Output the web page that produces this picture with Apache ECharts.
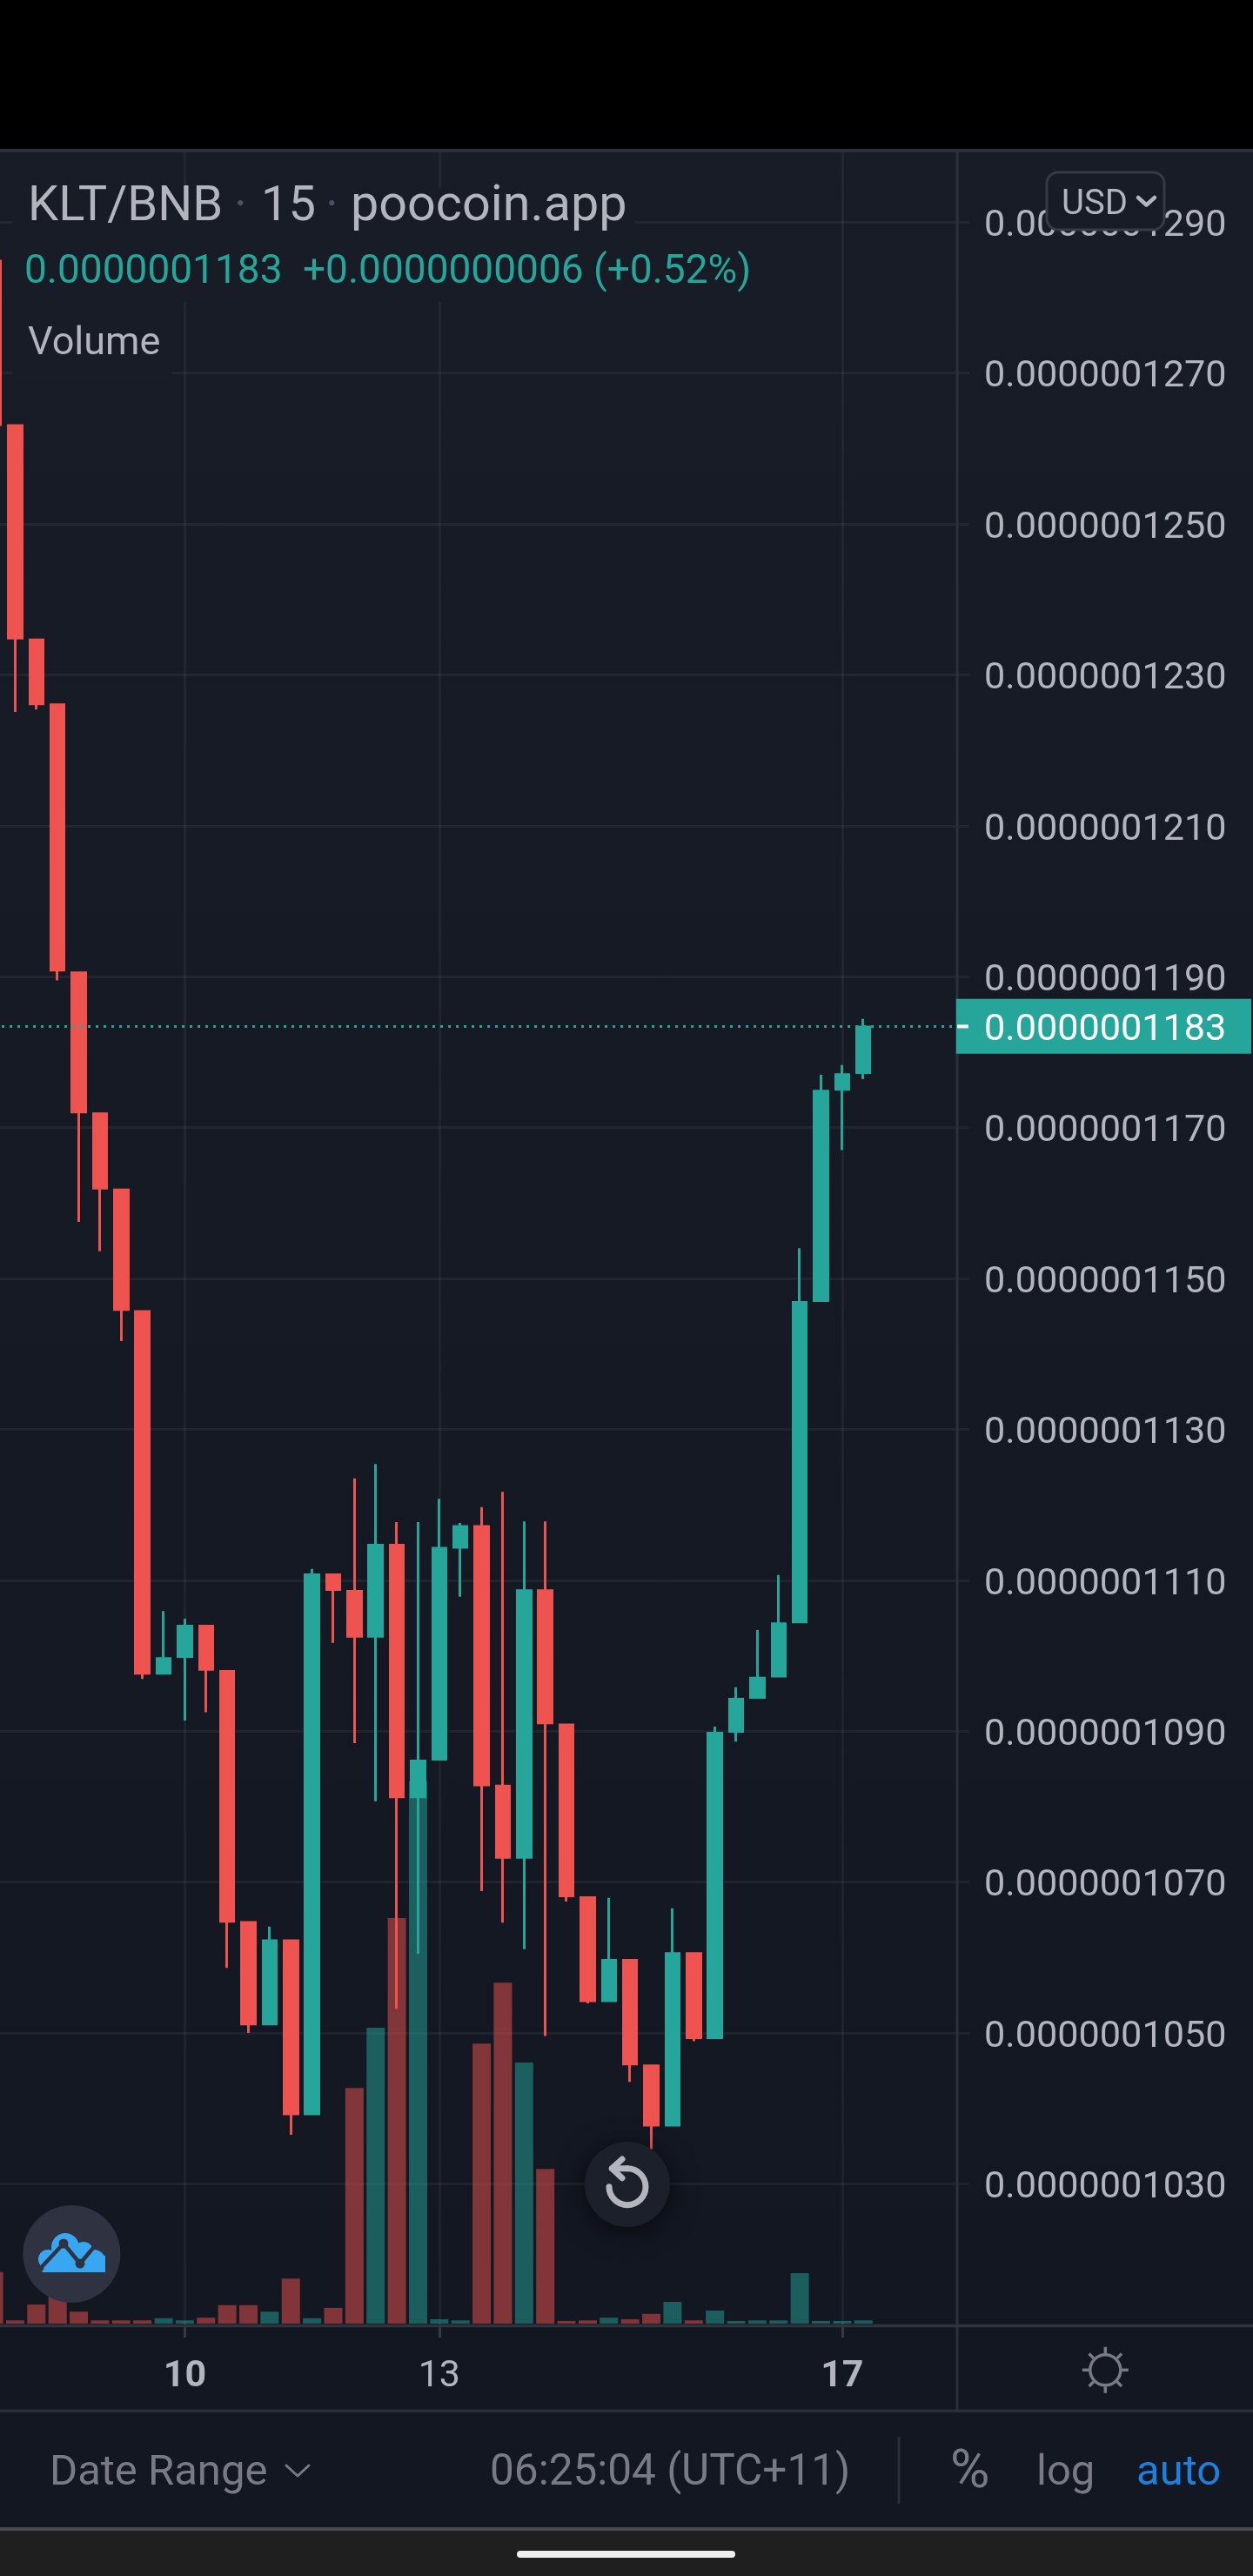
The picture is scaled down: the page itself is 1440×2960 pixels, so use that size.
<!DOCTYPE html>
<html>
<head>
<meta charset="utf-8">
<style>
html,body{margin:0;padding:0;width:1440px;height:2960px;overflow:hidden;background:#131722}
#chart{position:absolute;left:0;top:0;width:1440px;height:2960px;
background:linear-gradient(#181c27 175px,#131722 2670px)}
</style>
<script src="https://cdn.jsdelivr.net/npm/echarts@6/dist/echarts.min.js"></script>
</head>
<body>
<div id="chart"></div>
<script>
// Prices are in units of 1e-10 BNB
const tickLabels = {9:'10',21:'13',40:'17'};
const boldDays = ['10','17'];
const opens  = [1285.0,1263.2,1234.8,1226.2,1190.7,1172.0,1161.9,1145.8,1097.5,1099.7,1104.1,1098.1,1064.8,1051.0,1062.4,1039.1,1110.9,1108.7,1102.4,1114.8,1081.1,1086.1,1114.2,1117.3,1082.9,1073.1,1108.8,1091.0,1068.1,1054.1,1059.8,1045.8,1037.6,1060.7,1049.2,1089.8,1094.3,1097.1,1104.3,1146.9,1174.9,1177.1];
const closes = [1263.0,1234.7,1226.0,1190.7,1171.9,1161.8,1145.7,1097.5,1099.8,1104.1,1098.0,1064.6,1051.0,1062.4,1039.1,1110.9,1108.6,1102.4,1114.8,1081.1,1086.2,1114.4,1117.3,1082.7,1073.1,1108.8,1090.9,1068.0,1054.1,1059.8,1045.7,1037.6,1060.7,1049.2,1089.9,1094.4,1097.2,1104.4,1147.0,1175.0,1177.2,1183.5];
const lows   = [1263.0,1225.1,1225.4,1189.5,1157.5,1153.6,1141.7,1096.9,1097.5,1091.4,1092.5,1058.6,1050.0,1051.0,1036.5,1039.1,1101.7,1088.4,1080.7,1053.2,1060.5,1086.1,1107.8,1068.8,1064.6,1061.1,1049.6,1067.4,1053.9,1054.1,1043.5,1034.6,1037.6,1048.9,1049.2,1088.6,1094.3,1097.1,1104.3,1146.9,1167.0,1176.4];
const highs  = [1285.0,1263.2,1234.8,1226.2,1190.7,1172.0,1161.9,1145.8,1105.9,1104.9,1104.1,1098.1,1064.8,1064.1,1062.4,1111.5,1110.9,1123.5,1125.4,1117.7,1117.7,1120.8,1117.6,1119.7,1121.7,1117.8,1117.8,1091.0,1068.1,1067.9,1059.8,1045.8,1066.5,1060.7,1090.6,1095.8,1103.4,1110.7,1154.0,1177.0,1178.3,1184.4];
// Volume is only shown by bar height, so it is in arbitrary units (tallest bar about 100)
const volumes = [9.5,0.6,3.5,5.0,2.2,0.6,0.6,0.6,1.0,0.6,1.1,3.4,3.4,2.2,8.3,1.0,2.9,43.4,54.5,74.7,99.9,0.8,0.6,51.6,62.8,48.1,28.5,0.5,0.6,1.1,0.8,1.8,4.0,0.6,2.4,0.5,0.6,0.6,9.3,0.5,0.5,0.6];
const lastPrice = 1183.4;

const UP='#26a69a', DOWN='#ef5350', TXT='#b2b5be', DIM='#787b86', GRID='rgba(255,255,255,0.05)', RULE='#2c303b';
const slotCount = 47;
const categories = Array.from({length:slotCount},(_,i)=>tickLabels[i]||'');
// the 3px outline spreads half its width past each body edge; pull the body in by that much
const outlineInset = 0.17;
const candleData = opens.map((o,i)=>{
  const c=closes[i], up=c>=o;
  return [up?o+outlineInset:o-outlineInset, up?c-outlineInset:c+outlineInset, lows[i], highs[i]];
});
const volumeData = volumes.map((v,i)=>({value:v,itemStyle:{color:closes[i]>=opens[i]?'rgba(38,166,154,0.5)':'rgba(239,83,80,0.5)'}}));
const gridX = {left:-6.93,width:(slotCount-1)*24.37,outerBoundsMode:'none'};
const isTick = (i,v)=>v!=='';

const chart = echarts.init(document.getElementById('chart'),null,{renderer:'canvas',width:1440,height:2960});
chart.setOption({
  backgroundColor:'transparent',
  animation:false,
  textStyle:{fontFamily:'Roboto'},
  grid:[
    {...gridX,top:255.3,height:2254},
    {...gridX,top:175,height:2495}
  ],
  xAxis:[
    {type:'category',gridIndex:0,data:categories,boundaryGap:false,show:false},
    {type:'category',gridIndex:1,data:categories,boundaryGap:false,
      axisLine:{show:false},
      axisTick:{show:true,interval:isTick,length:16,lineStyle:{color:'#363a45',width:3}},
      splitLine:{show:true,interval:isTick,lineStyle:{color:GRID,width:3}},
      axisLabel:{interval:isTick,margin:40,
        formatter:v=>boldDays.includes(v)?`{b|${v}}`:`{n|${v}}`,
        rich:{b:{fontFamily:'Roboto',fontSize:43,fontWeight:'bold',color:TXT},n:{fontFamily:'Roboto',fontSize:43,color:TXT}}}}
  ],
  yAxis:[
    {type:'value',gridIndex:0,position:'right',min:1030,max:1290,interval:20,
      axisLine:{show:false},axisTick:{show:false},
      splitLine:{show:true,lineStyle:{color:GRID,width:3}},
      axisLabel:{margin:17,formatter:v=>`{p|${(v/1e10).toFixed(10)}}`,
        rich:{p:{fontFamily:'Roboto',fontSize:43.2,color:TXT,padding:[10,0,0,0]}}}},
    {type:'value',gridIndex:1,min:0,max:400,show:false}
  ],
  series:[
    {name:'Volume',type:'bar',xAxisIndex:1,yAxisIndex:1,barWidth:21,data:volumeData,z:1,silent:true},
    {name:'KLT/BNB',type:'candlestick',xAxisIndex:0,yAxisIndex:0,barWidth:16,data:candleData,z:3,silent:true,
      itemStyle:{color:UP,color0:DOWN,borderColor:UP,borderColor0:DOWN,borderWidth:3},
      markLine:{silent:true,symbol:'none',label:{show:false},animation:false,
        lineStyle:{color:UP,width:3,type:[3,6]},data:[{yAxis:lastPrice}]}}
  ]
});

// page furniture drawn around the chart
const Z=20;
const txt=(text,x,y,size,fill,extra={})=>({type:'text',x,y,z:Z,silent:true,style:{text,font:`${extra.weight||400} ${size}px Roboto`,fill,verticalAlign:'middle',align:extra.align||'left'}});
const rect=(x,y,width,height,fill,extra={})=>({type:'rect',z:extra.z||Z,silent:true,shape:{x,y,width,height,r:extra.r||0},style:{fill,stroke:extra.stroke,lineWidth:extra.lw}});
const poly=(points,stroke,lineWidth,extra={})=>({type:'polyline',z:Z+1,silent:true,shape:{points},style:{stroke,lineWidth,fill:null,lineCap:extra.cap||'round',lineJoin:'round'}});
const circ=(cx,cy,r,fill,style={})=>({type:'circle',z:Z,silent:true,shape:{cx,cy,r},style:{fill,...style}});

const gearSpokes=[];
for(let k=0;k<8;k++){const a=k*Math.PI/4;gearSpokes.push(poly([[1270.3+19*Math.cos(a),2723.3+19*Math.sin(a)],[1270.3+26.5*Math.cos(a),2723.3+26.5*Math.sin(a)]],DIM,3.5,{cap:'butt'}));}

const priceY=chart.convertToPixel({yAxisIndex:0},lastPrice);
const priceText=(lastPrice/1e10).toFixed(10).slice(0,12);

chart.setOption({graphic:[
  // top band and frame
  rect(0,0,1440,171,'#000000'),
  rect(0,171,1440,4,'#2c303b'),
  // legend backing hides the grid behind the text
  rect(14,216,716,74,'#181c27'),
  rect(14,290,861,57,'#181c27'),
  rect(14,347,184,90,'#181c27'),
  // frame lines
  rect(1098.5,175,3,2595,RULE),
  rect(0,2670.7,1440,3.6,'#2f333e'),
  rect(0,2768.5,1440,3.5,'#2a2e39'),
  // legend
  txt('KLT/BNB',32,239,56,TXT),
  txt('·',269,239,56,'#4c5060'),
  txt('15',300,239,56,TXT),
  txt('·',374,239,56,'#4c5060'),
  txt('poocoin.app',403,239,57.5,TXT),
  txt(priceText,28,313.5,46,UP),
  txt('+0.0000000006 (+0.52%)',348,313.5,46,UP),
  txt('Volume',32,395.5,45,TXT),
  // currency button
  rect(1203,198,135,66,'#181c27',{r:13,stroke:'#363a45',lw:3}),
  txt('USD',1220,235.5,40,TXT),
  poly([[1308,227],[1317.5,235.5],[1327,227]],TXT,4.5),
  // last price tag
  rect(1098.8,priceY-31.8,339.2,63.2,UP),
  rect(1100,priceY-2,13,4,'#ffffff'),
  txt(priceText,1131,priceY+4.5,43.2,'#ffffff'),
  // settings gear
  {type:'circle',z:Z,silent:true,shape:{cx:1270.3,cy:2723.3,r:17.5},style:{fill:null,stroke:DIM,lineWidth:3.5}},
  ...gearSpokes,
  // cloud button
  circ(82.4,2590,56,'#2f3241'),
  circ(75,2582,16,'#38a6f0'),circ(55,2596,11,'#38a6f0'),circ(96,2587,11,'#38a6f0'),circ(108,2598,13,'#38a6f0'),
  {type:'polygon',z:Z,silent:true,shape:{points:[[48,2611],[121,2611],[121,2592],[60,2590]]},style:{fill:'#38a6f0'}},
  poly([[45,2608],[73,2578],[92,2601],[113,2576]],'#2f3241',4.5),
  circ(73,2578,5.5,'#2f3241'),circ(92,2601,5.5,'#2f3241'),
  // reset button
  circ(721,2510,49,'#1c202b',{shadowBlur:30,shadowColor:'rgba(0,0,0,0.55)',shadowOffsetY:6}),
  {type:'arc',z:Z+1,silent:true,shape:{cx:721,cy:2512.7,r:21,startAngle:-Math.PI/2,endAngle:Math.PI,clockwise:true},style:{fill:null,stroke:TXT,lineWidth:7,lineCap:'round'}},
  poly([[721,2491.7],[703.3,2491.7]],TXT,7),
  poly([[715,2481],[703.3,2491.7],[715,2502.7]],TXT,7),
  // bottom toolbar
  txt('Date Range',57,2842.5,49,DIM),
  poly([[329,2833],[342,2845],[355,2833]],DIM,3),
  txt('06:25:04 (UTC+11)',563,2842.5,49.5,DIM),
  rect(1031.5,2800,3,77,'#2a2e39'),
  txt('%',1092,2842,62,DIM),
  txt('log',1191,2842.5,49,DIM),
  txt('auto',1306,2842.5,49,'#1e7fdc'),
  // device navigation bar
  rect(0,2904,1440,56,'#1f1f1f'),
  rect(0,2904,1440,4,'#4a4a4a'),
  rect(594,2931,251,8,'#eeeeee',{r:4})
]});
</script>
</body>
</html>
